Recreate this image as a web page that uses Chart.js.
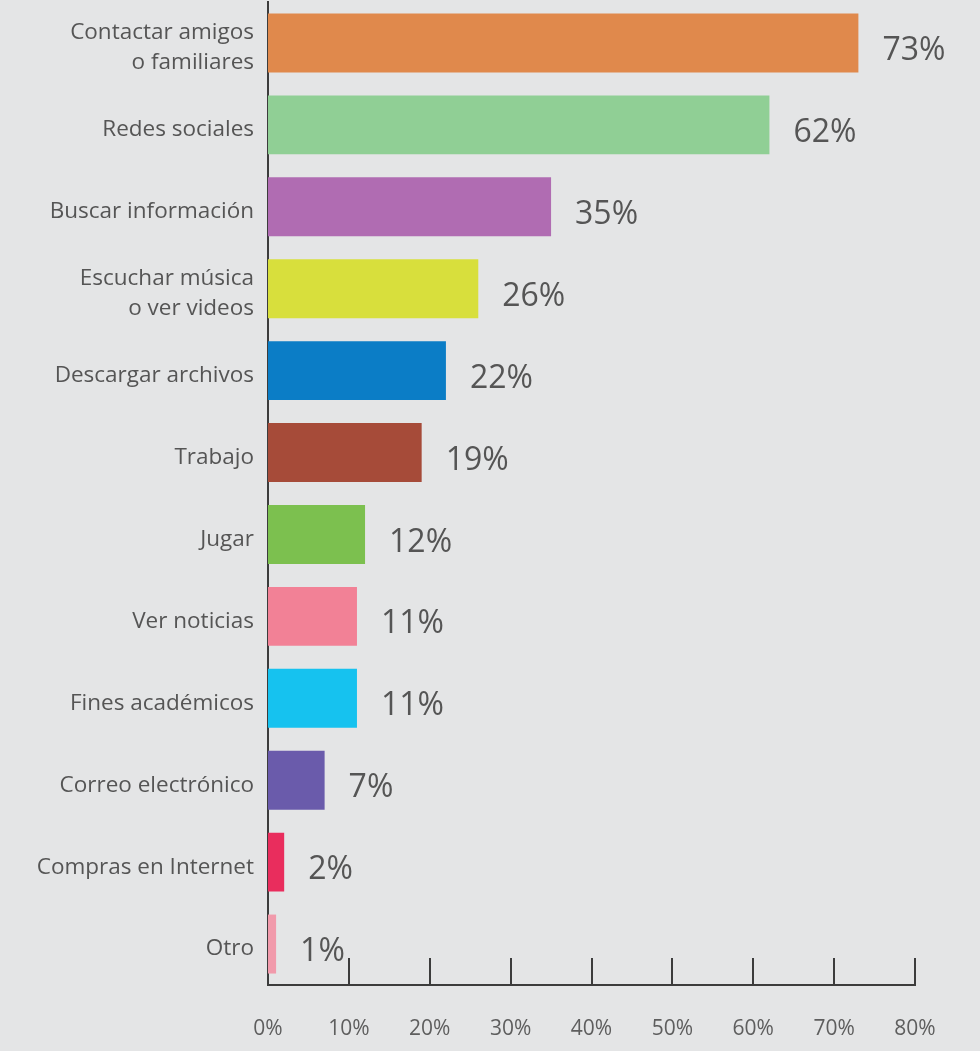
<!DOCTYPE html>
<html>
<head>
<meta charset="utf-8">
<script src="https://cdn.jsdelivr.net/npm/chart.js@4/dist/chart.umd.min.js"></script>
<style>
  html, body { margin: 0; padding: 0; background: #e4e5e6; }
  canvas { display: block; }
</style>
</head>
<body>
<canvas id="myChart" width="980" height="1051"></canvas>
<script>
var categories = [
    ["Contactar amigos", "o familiares"],
    "Redes sociales",
    "Buscar información",
    ["Escuchar música", "o ver videos"],
    "Descargar archivos",
    "Trabajo",
    "Jugar",
    "Ver noticias",
    "Fines académicos",
    "Correo electrónico",
    "Compras en Internet",
    "Otro"
];
var values = [73, 62, 35, 26, 22, 19, 12, 11, 11, 7, 2, 1];
var barColors = ['#e0894c', '#90cf95', '#b06cb2', '#d8df3c', '#0b7dc6', '#a64b39',
                 '#7cc04f', '#f28196', '#16c2ef', '#6a5bab', '#e92d5d', '#f19aab'];
var xTicks = [0, 10, 20, 30, 40, 50, 60, 70, 80];

var textColor = '#555555';
var axisColor = '#3c3c3c';

// value labels right of each bar + tick marks pointing up from the x axis
var extras = {
    id: 'extras',
    afterDatasetsDraw: function(chart) {
        var c = chart.ctx;
        var meta = chart.getDatasetMeta(0);
        c.save();
        c.fillStyle = textColor;
        c.font = '32px "Open Sans"';
        c.textBaseline = 'middle';
        c.textAlign = 'left';
        meta.data.forEach(function(bar, i) {
            c.fillText(values[i] + '%', bar.x + 24, bar.y + 8);
        });
        var xs = chart.scales.x;
        var bottom = chart.chartArea.bottom;
        c.strokeStyle = axisColor;
        c.lineWidth = 2;
        xTicks.forEach(function(v) {
            if (v === 0) return;
            var px = Math.round(xs.getPixelForValue(v));
            c.beginPath();
            c.moveTo(px, bottom - 27);
            c.lineTo(px, bottom);
            c.stroke();
        });
        c.restore();
    }
};

var ctx = document.getElementById("myChart");
var chart = new Chart(ctx, {
    type: 'bar',
    data: {
        labels: categories,
        datasets: [{
            data: values,
            backgroundColor: barColors,
            borderWidth: 0,
            barPercentage: 0.72,
            categoryPercentage: 1
        }]
    },
    options: {
        indexAxis: 'y',
        responsive: false,
        animation: false,
        devicePixelRatio: 1,
        layout: { padding: { top: 2, right: 65, left: 0, bottom: 0 } },
        plugins: {
            legend: { display: false },
            tooltip: { enabled: false }
        },
        scales: {
            x: {
                min: 0,
                max: 80,
                afterBuildTicks: function(scale) {
                    scale.ticks = xTicks.map(function(v) { return { value: v }; });
                },
                afterFit: function(scale) {
                    scale.height = 66;
                    scale.paddingLeft = 0;
                    scale.paddingRight = 0;
                },
                grid: { display: false, drawTicks: false },
                border: { display: true, color: axisColor, width: 2 },
                ticks: {
                    color: '#5e5e5e',
                    padding: 31,
                    font: { family: 'Open Sans', size: 21 },
                    callback: function(v) { return v + '%'; }
                }
            },
            y: {
                afterFit: function(scale) {
                    scale.width = 268;
                    scale.paddingTop = 0;
                    scale.paddingBottom = 0;
                },
                grid: { display: false, drawTicks: false },
                border: { display: true, color: axisColor, width: 2 },
                ticks: {
                    color: textColor,
                    padding: 14,
                    labelOffset: 5,
                    font: { family: 'Open Sans', size: 22.5, lineHeight: 1.33 }
                }
            }
        }
    },
    plugins: [extras]
});
</script>
</body>
</html>
